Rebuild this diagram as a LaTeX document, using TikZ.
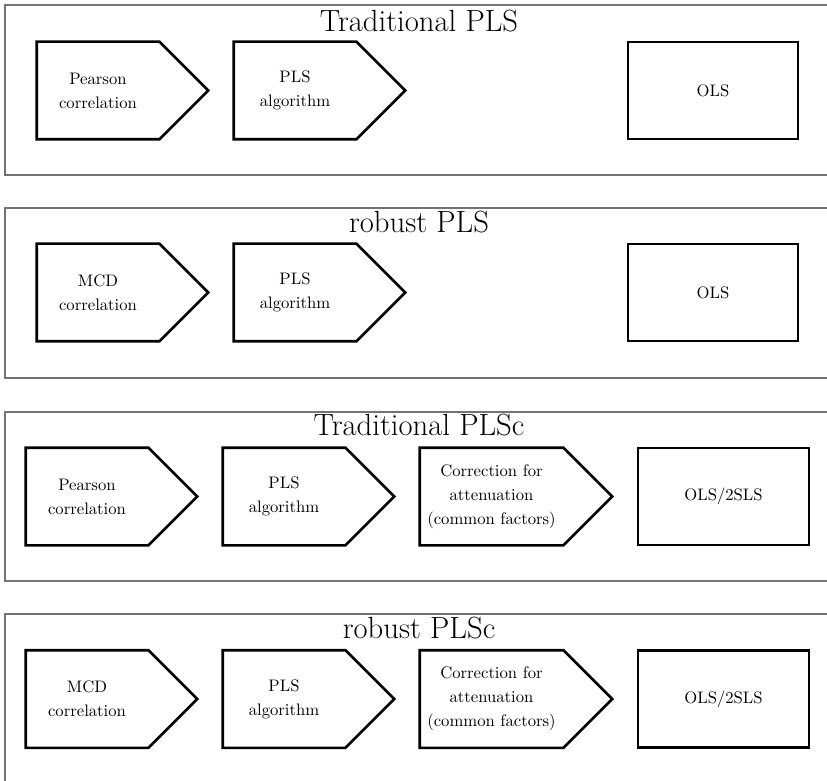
\documentclass[tikz,border=0pt]{standalone}
\definecolor{framegray}{RGB}{115,115,115}
\begin{document}
\begin{tikzpicture}[x=0.6pt,y=-0.6pt,
  frame/.style={draw=framegray, line width=0.7pt},
  title/.style={anchor=base, font=\fontsize{18.4}{22}\selectfont, inner sep=0pt},
  body/.style={inner sep=0pt, align=center, minimum height=58.2pt, minimum width=73.2pt, font=\fontsize{10}{14.5}\selectfont},
  widebody/.style={body, minimum width=85.8pt},
  olsbox/.style={body, minimum width=102pt, draw=black, line width=1.6pt},
  outline/.style={draw=black, line width=1.6pt, line join=miter},
]
\clip (0,0) rectangle (827,781);

% frames
\draw[frame] (5,5) rectangle (845,175);
\draw[frame] (5,208) rectangle (845,378);
\draw[frame] (5,412) rectangle (845,581);
\draw[frame] (5,614) rectangle (845,800);

% titles
\node[title] (t1) at (419,32) {Traditional PLS};
\node[title] (t2) at (419,233) {robust PLS};
\node[title] (t3) at (419,435) {Traditional PLSc};
\node[title] (t4) at (419,638) {robust PLSc};

% panel 1
\node[body] (pc1) at (98,90.5) {Pearson\\correlation};
\node[body] (pls1) at (295,90.5) {PLS\\algorithm};
\node[olsbox] (ols1) at (713,90.5) {OLS};

% panel 2
\node[body] (mcd2) at (98,292.5) {MCD\\correlation};
\node[body] (pls2) at (295,292.5) {PLS\\algorithm};
\node[olsbox] (ols2) at (713,292.5) {OLS};

% panel 3
\node[body] (pc3) at (87,496.5) {Pearson\\correlation};
\node[body] (pls3) at (284,496.5) {PLS\\algorithm};
\node[widebody] (cor3) at (491.5,496.5) {Correction for\\attenuation\\(common factors)};
\node[olsbox, minimum width=102.6pt] (ols3) at (723.5,496.5) {OLS/2SLS};

% panel 4
\node[body] (mcd4) at (87,699) {MCD\\correlation};
\node[body] (pls4) at (284,699) {PLS\\algorithm};
\node[widebody] (cor4) at (491.5,699) {Correction for\\attenuation\\(common factors)};
\node[olsbox, minimum width=102.6pt] (ols4) at (723.5,699) {OLS/2SLS};

% pentagon outlines
\foreach \n in {pc1,pls1,mcd2,pls2,pc3,pls3,cor3,mcd4,pls4,cor4}{
  \draw[outline] (\n.north west) -- (\n.north east) -- ([xshift=29.4pt]\n.east)
    -- (\n.south east) -- (\n.south west) -- cycle;
}
\end{tikzpicture}
\end{document}
